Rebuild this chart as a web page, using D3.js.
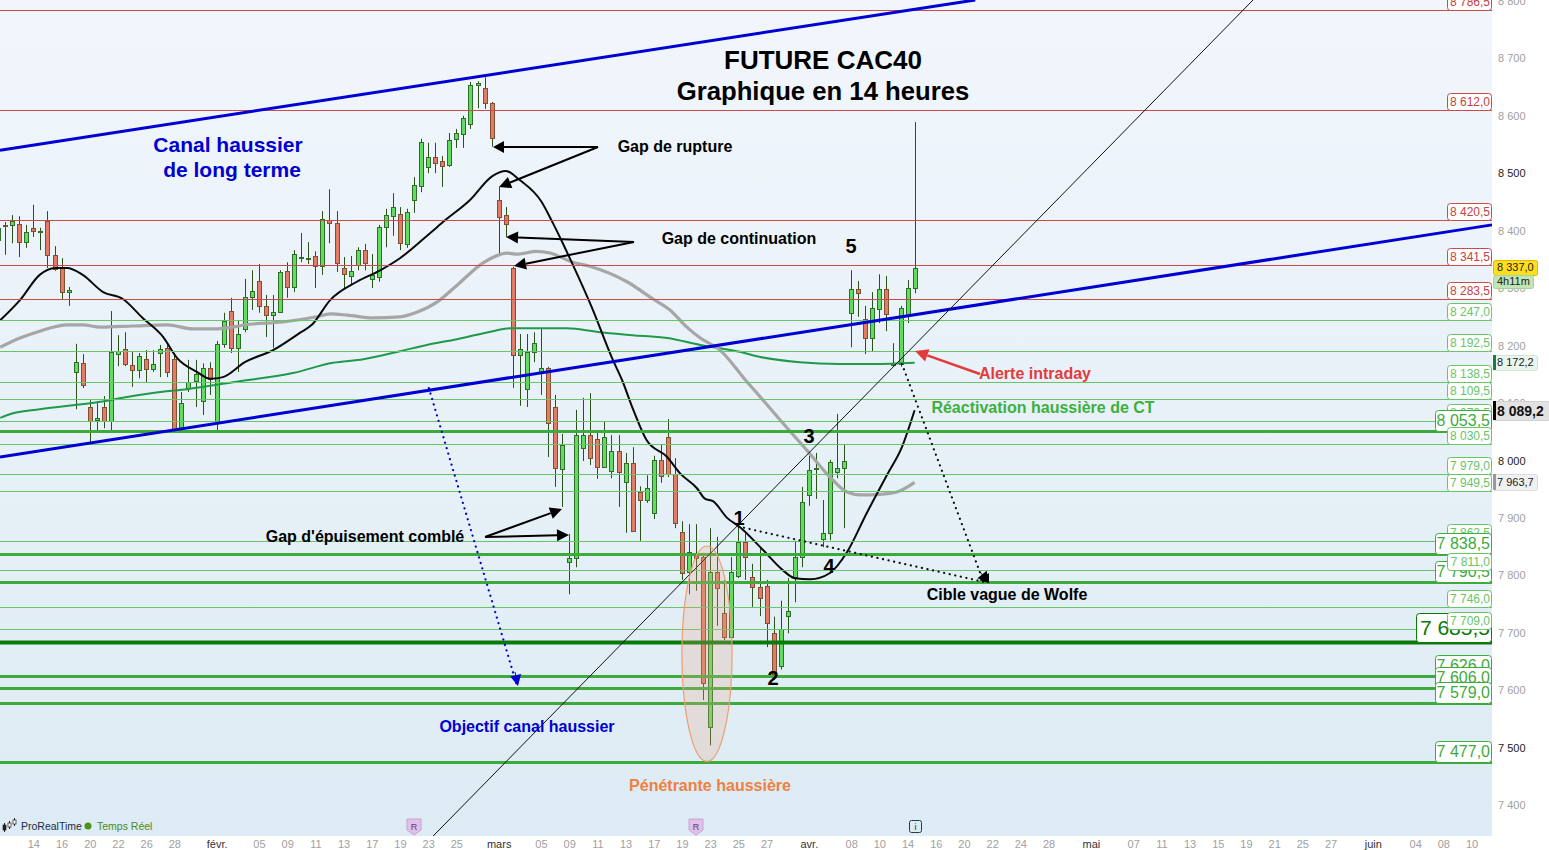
<!DOCTYPE html>
<meta charset="utf-8">
<style>
    html, body { margin: 0; padding: 0; background: #fff; }
    svg { display: block; font-family: "Liberation Sans", Arial, sans-serif; }
    .axis path { display: none; }
    .axis line { display: none; }
    .axis text { font-size: 11px; fill: #a0a0a0; font-family: "Liberation Sans", Arial, sans-serif; }
    .note { font-weight: bold; font-size: 16px; }
</style>
<svg class="chart" width="1549" height="850"></svg>
<script src="https://d3js.org/d3.v7.min.js" charset="utf-8"></script>
<script>

    // candles, one entry per 14h bar
    var opens = [
        8386,8412,8412,8414,8382,8407,8400,8419,8360,8337,
        8295,8156,8171,8095,8072,8095,8071,8187,8196,8168,
        8159,8178,8161,8189,8198,8178,8057,8128,8140,8105,
        8163,8071,8205,8262,8198,8231,8286,8314,8271,8255,
        8260,8332,8304,8354,8352,8358,8340,8420,8415,8337,
        8323,8342,8368,8318,8321,8408,8427,8431,8379,8455,
        8480,8513,8530,8523,8516,8561,8570,8588,8656,8650,
        8624,8455,8429,8337,8185,8126,8191,8156,8163,8095,
        7987,7825,7832,8024,8046,8039,7990,7983,8018,7964,
        7997,7947,7933,7910,8003,8043,7978,7877,7808,7835,
        7834,7538,7808,7736,7694,7801,7860,7799,7781,7783,
        7701,7645,7731,7799,7834,7942,7987,7865,7875,7982,
        7989,8259,8300,8248,8215,8266,8300,8168,8170,8255,
        8302];
    var closes = [
        8407,8410,8419,8382,8400,8401,8401,8360,8335,8295,
        8299,8173,8133,8071,8076,8071,8191,8192,8170,8159,
        8184,8161,8170,8196,8156,8057,8102,8138,8152,8163,
        8144,8205,8245,8198,8222,8286,8297,8271,8255,8260,
        8330,8304,8361,8356,8354,8340,8422,8415,8346,8326,
        8332,8368,8346,8325,8408,8429,8443,8380,8434,8481,
        8556,8530,8520,8514,8560,8572,8598,8656,8659,8624,
        8563,8426,8414,8185,8196,8191,8206,8163,8067,7989,
        8029,7832,8046,8046,8006,7990,8043,8018,7982,7997,
        7879,7933,7954,8003,7975,7978,7893,7806,7842,7832,
        7614,7808,7780,7694,7808,7860,7834,7781,7761,7719,
        7629,7709,7740,7834,7930,7985,7989,7875,7999,7989,
        8001,8300,8293,8215,8267,8300,8257,8170,8267,8302,
        8337];
    var highs = [
        8415,8417,8429,8427,8412,8447,8407,8436,8375,8354,
        8304,8205,8187,8107,8105,8114,8262,8220,8225,8191,
        8189,8194,8194,8203,8203,8185,8121,8177,8177,8171,
        8173,8210,8259,8285,8246,8318,8333,8344,8290,8290,
        8333,8347,8368,8398,8382,8366,8436,8474,8436,8356,
        8358,8373,8379,8361,8412,8440,8467,8443,8440,8495,
        8562,8555,8555,8532,8572,8579,8602,8661,8662,8669,
        8626,8478,8443,8339,8222,8222,8225,8231,8165,8116,
        8048,7874,8090,8111,8119,8055,8069,8046,8046,8015,
        8025,7957,7976,8010,8029,8074,8006,7896,7891,7891,
        7841,7884,7869,7794,7834,7893,7875,7822,7849,7794,
        7730,7758,7797,7862,7956,8011,8015,7933,8003,8083,
        8029,8333,8314,8271,8295,8326,8323,8206,8271,8316,
        8591];
    var lows = [
        8373,8360,8380,8356,8372,8391,8368,8337,8332,8283,
        8271,8091,8128,8034,8050,8058,8050,8166,8166,8130,
        8145,8138,8156,8147,8147,8051,8055,8121,8095,8081,
        8116,8055,8198,8189,8156,8225,8264,8259,8217,8198,
        8259,8285,8295,8347,8344,8302,8325,8380,8330,8299,
        8307,8333,8333,8302,8313,8373,8393,8368,8372,8433,
        8469,8502,8502,8478,8513,8546,8546,8579,8615,8614,
        8548,8361,8391,8128,8097,8095,8173,8116,8008,7956,
        7921,7769,7816,8001,7994,7970,7990,7971,7921,7876,
        7879,7862,7928,7900,7963,7973,7884,7794,7769,7775,
        7585,7506,7714,7689,7694,7797,7794,7747,7731,7677,
        7620,7638,7701,7755,7816,7923,7935,7851,7863,7971,
        7884,8199,8252,8187,8191,8241,8227,8168,8165,8241,
        8293];

    // moving averages, read at these bars
    var blackBars = [0.3,3.1,5.9,8.1,9.8,12,14.9,17.7,20.5,23.4,25.4,28.2,30.1,31.9,35,39,42.8,44.5,47.1,50.9,54.2,57,61.3,63.4,66.9,70.1,72,74,77.1,78.7,80.1,81.4,84.2,87.2,88.5,90.1,92,94.9,96.7,99.1,100.3,101.4,103.4,105.2,108.5,111.3,113,115.2,118,120.4,123.2,126.1,128.2,130];
    var blackValues = [8246,8281,8325,8337,8337,8325,8295,8283,8250,8217,8180,8156,8144,8147,8173,8194,8224,8238,8281,8313,8333,8354,8398,8420,8455,8497,8506,8490,8452,8415,8380,8346,8269,8177,8142,8090,8037,8008,7980,7954,7935,7931,7902,7886,7846,7811,7797,7795,7806,7842,7910,7977,8025,8089.2];
    var grayBars = [0.3,3.1,5.9,9.8,12,14.5,19.1,24,27.6,31.1,35.7,40.4,45.2,47.1,49.5,53.2,57,59.4,62.3,65.1,68.8,72.2,73.6,76.4,78.3,81.5,83.9,89.2,92.9,95.3,97.7,99.6,102.4,106,108.5,111.3,114.7,118,120.4,122.3,125.1,127.5,130];
    var grayValues = [8199,8215,8227,8238,8238,8234,8236,8238,8231,8231,8239,8243,8252,8257,8255,8250,8252,8260,8278,8307,8346,8363,8361,8366,8363,8347,8340,8313,8283,8264,8234,8215,8194,8142,8107,8067,8020,7973,7947,7942,7943,7947,7963.7];
    var greenBars = [0.3,2.1,5.9,14.5,17.7,23,26.8,33.3,41.8,47.5,51.8,57,60.8,65.1,70.2,72.6,80.7,85.4,90,94.9,99.6,105.2,108.1,113.7,119.4,124.1,130];
    var greenValues = [8076,8084,8091,8104,8111,8121,8126,8138,8154,8172,8178,8192,8203,8213,8227,8232,8232,8225,8220,8215,8203,8191,8182,8173,8170,8170,8172.2];

    // horizontal levels, in the order the labels stack
    var levelValues = [8786.5,8612,8420.5,8341.5,8283.5,8247,8192.5,8138.5,8109.5,8070.5,8053.5,8030.5,7979,7949.5,7862.5,7838.5,7790.5,7811,7746,7685.5,7709,7626,7606,7579,7477];
    var levelKinds = ["res","res","res","res","res","sup","sup","sup","sup","sup","strong","sup","sup","sup","sup","strong","strong","sup","sup","major","sup","strong","strong","strong","strong"];

    // bottom axis
    var tickBars = [5,9,13,17,21,25,31,37,41,45,49,53,57,61,65,71,77,81,85,89,93,97,101,105,109,115,121,125,129,133,137,141,145,149,155,161,165,169,173,177,181,185,189,195,201,205,209];
    var tickLabels = ["14","16","20","22","26","28","févr.","05","09","11","13","17","19","23","25","mars","05","09","11","13","17","19","23","25","27","avr.","08","10","14","16","20","22","24","28","mai","07","11","13","15","19","21","25","27","juin","04","08","10"];
    var priceTicks = [7400,7500,7600,7700,7800,7900,8000,8100,8200,8300,8400,8500,8600,8700,8800];
    var darkPrices = [7500,8000,8500];

    // channel and trend lines, [bar, price]
    var upperChannel = [[0.27,8542],[138.6,8803.5]];
    var lowerChannel = [[0.27,8008],[211.9,8412]];
    var trendLine = [[61.7,7348],[178,8803.5]];
    var wolfeTarget = [[105,7887],[140,7790]];
    var wolfeDrop = [[128.2,8170],[139.8,7790]];
    var channelTarget = [[61.1,8128],[73.6,7610]];
    var ellipseBars = [97,104.1];
    var ellipsePrices = [7478,7853];

    var width = 1549,
        height = 850,
        plotRight = 1492,
        plotBottom = 836;

    var x = d3.scaleLinear().domain([0, 130]).range([-1.9, 914.6]);
    var y = d3.scaleLinear().domain([7477, 8612]).range([762, 110]);

    var priceFmt = function (v) {
        return d3.format(",.1f")(v).replace(",", " ").replace(".", ",");
    };

    var svg = d3.select(".chart");

    var defs = svg.append("defs");
    var grad = defs.append("linearGradient").attr("id", "bg").attr("x1", 0).attr("x2", 0).attr("y1", 0).attr("y2", 1);
    grad.append("stop").attr("offset", "0%").attr("stop-color", "#f1f6fc");
    grad.append("stop").attr("offset", "50%").attr("stop-color", "#e8f1f8");
    grad.append("stop").attr("offset", "100%").attr("stop-color", "#dcebf4");

    svg.append("rect").attr("width", plotRight).attr("height", plotBottom).attr("fill", "url(#bg)");

    // candles
    var bars = d3.range(opens.length).map(function (i) {
        return {i: i, o: opens[i], h: highs[i], l: lows[i], c: closes[i]};
    });

    var candle = svg.append("g").selectAll("g").data(bars).enter().append("g");

    candle.append("line")
        .attr("x1", function (d) { return Math.round(x(d.i)) + 0.5; })
        .attr("x2", function (d) { return Math.round(x(d.i)) + 0.5; })
        .attr("y1", function (d) { return y(d.h); })
        .attr("y2", function (d) { return y(d.l); })
        .attr("stroke", "#2a5218");

    candle.append("rect")
        .attr("x", function (d) { return Math.round(x(d.i)) - 1.5; })
        .attr("width", 4)
        .attr("y", function (d) { return Math.round(y(Math.max(d.o, d.c))) + 0.5; })
        .attr("height", function (d) { return Math.max(1, Math.round(y(Math.min(d.o, d.c)) - y(Math.max(d.o, d.c)))); })
        .attr("fill", function (d) { return d.c >= d.o ? "#62dc5e" : "#e27c66"; })
        .attr("stroke", function (d) { return d.c >= d.o ? "#2f6e28" : "#7c5030"; });

    // moving averages
    var line = d3.line()
        .x(function (d) { return x(d[0]); })
        .y(function (d) { return y(d[1]); });

    svg.append("path").datum(d3.zip(greenBars, greenValues)).attr("d", line.curve(d3.curveMonotoneX))
        .attr("fill", "none").attr("stroke", "#1f9a4a").attr("stroke-width", 2);
    svg.append("path").datum(d3.zip(grayBars, grayValues)).attr("d", line)
        .attr("fill", "none").attr("stroke", "#a6a6a6").attr("stroke-width", 3.2);
    svg.append("path").datum(d3.zip(blackBars, blackValues)).attr("d", line)
        .attr("fill", "none").attr("stroke", "#0a0a0a").attr("stroke-width", 2);

    // horizontal levels
    var levelStyle = {
        res: {stroke: "#cc4a4a", sw: 1, text: "#c84040", left: 1447, h: 17, font: 12},
        sup: {stroke: "#68c468", sw: 1, text: "#66c566", left: 1447, h: 17, font: 12},
        strong: {stroke: "#3cab3c", sw: 3, text: "#3cab3c", left: 1435, h: 21, font: 16},
        major: {stroke: "#087a08", sw: 4, text: "#087a08", left: 1416, h: 29, font: 21}
    };
    var levels = d3.zip(levelValues, levelKinds);

    svg.append("g").selectAll("line").data(levels).enter().append("line")
        .attr("x1", 0)
        .attr("x2", plotRight)
        .attr("y1", function (d) { return Math.round(y(d[0])) + 0.5; })
        .attr("y2", function (d) { return Math.round(y(d[0])) + 0.5; })
        .attr("stroke", function (d) { return levelStyle[d[1]].stroke; })
        .attr("stroke-width", function (d) { return levelStyle[d[1]].sw; });

    // channels and trend line
    var straight = d3.line().x(function (d) { return x(d[0]); }).y(function (d) { return y(d[1]); });
    [upperChannel, lowerChannel].forEach(function (c) {
        svg.append("path").attr("d", straight(c)).attr("stroke", "#0000d2").attr("stroke-width", 3).attr("fill", "none");
    });
    svg.append("path").attr("d", straight(trendLine)).attr("stroke", "#111").attr("stroke-width", 1).attr("fill", "none");

    // penetrante ellipse
    svg.append("ellipse")
        .attr("cx", (x(ellipseBars[0]) + x(ellipseBars[1])) / 2)
        .attr("cy", (y(ellipsePrices[0]) + y(ellipsePrices[1])) / 2)
        .attr("rx", (x(ellipseBars[1]) - x(ellipseBars[0])) / 2)
        .attr("ry", (y(ellipsePrices[0]) - y(ellipsePrices[1])) / 2)
        .attr("fill", "#e8a888").attr("fill-opacity", 0.25)
        .attr("stroke", "#ef9e72").attr("stroke-width", 1.2);

    // dotted projections
    function dotted(pts, color) {
        svg.append("path").attr("d", straight(pts)).attr("fill", "none")
            .attr("stroke", color).attr("stroke-width", 2.2)
            .attr("stroke-linecap", "round").attr("stroke-dasharray", "0.1 5.6");
    }
    dotted(channelTarget, "#0000d2");
    dotted(wolfeTarget, "#111");
    dotted(wolfeDrop, "#111");

    // arrows
    function arrow(x1, y1, x2, y2, color, sw, len, half) {
        var a = Math.atan2(y2 - y1, x2 - x1),
            bx = x2 - len * Math.cos(a),
            by = y2 - len * Math.sin(a);
        svg.append("line").attr("x1", x1).attr("y1", y1).attr("x2", bx).attr("y2", by)
            .attr("stroke", color).attr("stroke-width", sw);
        svg.append("polygon")
            .attr("points", [
                [x2, y2],
                [bx - half * Math.sin(a), by + half * Math.cos(a)],
                [bx + half * Math.sin(a), by - half * Math.cos(a)]
            ].join(" "))
            .attr("fill", color);
    }
    arrow(598, 147, 493, 147, "#000", 2, 11, 6);
    arrow(598, 147, 499, 187, "#000", 2, 12, 6);
    arrow(634, 242, 506, 237, "#000", 2, 12, 6);
    arrow(634, 242, 514, 266, "#000", 2, 12, 6);
    arrow(485, 537, 562, 509, "#000", 2, 12, 6);
    arrow(485, 537, 569, 535, "#000", 2, 12, 6);
    arrow(980, 374, 915, 351, "#e23b3b", 2.5, 13, 6.5);
    arrow(980, 572, 989, 583, "#000", 1, 11, 6);
    arrow(983, 575, 989, 583, "#000", 1, 8, 6);
    arrow(515, 672, 518, 686, "#0000d2", 1, 11, 5.5);

    // level labels on the right of the plot
    var label = svg.append("g").selectAll("g").data(levels).enter().append("g");
    label.append("rect")
        .attr("x", function (d) { return levelStyle[d[1]].left + 0.5; })
        .attr("y", function (d) { return Math.round(y(d[0])) - levelStyle[d[1]].h + 0.5; })
        .attr("width", function (d) { return plotRight - levelStyle[d[1]].left - 1; })
        .attr("height", function (d) { return levelStyle[d[1]].h; })
        .attr("rx", 3)
        .attr("fill", "#fff")
        .attr("stroke", function (d) { return levelStyle[d[1]].stroke; });
    label.append("text")
        .attr("x", plotRight - 2)
        .attr("y", function (d) { return Math.round(y(d[0])) - levelStyle[d[1]].h / 2 + levelStyle[d[1]].font * 0.36; })
        .attr("text-anchor", "end")
        .attr("font-size", function (d) { return levelStyle[d[1]].font; })
        .attr("fill", function (d) { return levelStyle[d[1]].text; })
        .text(function (d) { return priceFmt(d[0]); });

    // axis backgrounds
    svg.append("rect").attr("x", plotRight).attr("width", width - plotRight).attr("height", height).attr("fill", "#fff");
    svg.append("rect").attr("y", plotBottom).attr("width", plotRight).attr("height", height - plotBottom).attr("fill", "#fff");

    // axes
    var yAxis = svg.append("g").attr("class", "axis y")
        .attr("transform", "translate(" + 1498 + ",-1)")
        .call(d3.axisRight(y).tickValues(priceTicks).tickSize(0).tickPadding(0)
            .tickFormat(function (d) { return d3.format(",")(d).replace(",", " "); }));
    yAxis.selectAll("text").filter(function (d) { return darkPrices.indexOf(d) >= 0; }).style("fill", "#222");

    var xAxis = svg.append("g").attr("class", "axis x")
        .attr("transform", "translate(0," + 840 + ")")
        .call(d3.axisBottom(x).tickValues(tickBars).tickSize(0).tickPadding(0)
            .tickFormat(function (d, i) { return tickLabels[i]; }));
    xAxis.selectAll("text").filter(function (d, i) { return isNaN(+tickLabels[i]); }).style("fill", "#333");

    // live price tags
    function tag(x0, y0, w, h, fill, stroke, txt, color, font, weight) {
        svg.append("rect").attr("x", x0 + 0.5).attr("y", y0 + 0.5).attr("width", w).attr("height", h).attr("rx", 2)
            .attr("fill", fill).attr("stroke", stroke);
        svg.append("text").attr("x", x0 + 4).attr("y", y0 + h / 2 + font * 0.36).attr("font-size", font)
            .attr("font-weight", weight || "normal").attr("fill", color).text(txt);
    }
    tag(1493, 260, 44, 15, "#ffdd1f", "#e3b800", priceFmt(closes[closes.length - 1]), "#222", 11);
    tag(1493, 275, 40, 13, "#bfe6b4", "#a4d49a", "4h11m", "#222", 11);
    tag(1493, 355, 44, 15, "#e9f6ee", "#cfe6d6", priceFmt(greenValues[greenValues.length - 1]), "#222", 11);
    svg.append("rect").attr("x", 1493).attr("y", 355).attr("width", 3).attr("height", 15).attr("fill", "#12843a");
    tag(1493, 401, 56, 19, "#e2e2e2", "#d0d0d0", priceFmt(blackValues[blackValues.length - 1]), "#111", 14, "bold");
    svg.append("rect").attr("x", 1493).attr("y", 401).attr("width", 3).attr("height", 19).attr("fill", "#000");
    tag(1493, 474, 44, 16, "#f0f0f0", "#dcdcdc", priceFmt(grayValues[grayValues.length - 1]), "#222", 11);
    svg.append("rect").attr("x", 1493).attr("y", 474).attr("width", 3).attr("height", 16).attr("fill", "#999");

    // annotations
    function note(txt, cx, cy, color, size) {
        svg.append("text").attr("x", cx).attr("y", cy + size * 0.36)
            .attr("text-anchor", "middle").attr("font-weight", "bold")
            .attr("font-size", size).attr("fill", color).text(txt);
    }
    note("FUTURE CAC40", 823, 60, "#000", 26);
    note("Graphique en 14 heures", 823, 91, "#000", 25.7);
    note("Canal haussier", 228, 144, "#0000d2", 21);
    note("de long terme", 232, 169, "#0000d2", 21);
    note("Gap de rupture", 675, 146, "#000", 16);
    note("Gap de continuation", 739, 238, "#000", 16);
    note("Gap d'épuisement comblé", 365, 536, "#000", 16);
    note("Alerte intraday", 1035, 373, "#e23b3b", 16);
    note("Réactivation haussière de CT", 1043, 407, "#3cb03c", 16);
    note("Cible vague de Wolfe", 1007, 594, "#000", 16);
    note("Objectif canal haussier", 527, 726, "#0000d2", 16);
    note("Pénétrante haussière", 710, 785, "#f08040", 16);
    note("1", 739, 518, "#000", 20);
    note("2", 773, 678, "#000", 20);
    note("3", 809, 436, "#000", 20);
    note("4", 829, 566, "#000", 20);
    note("5", 851, 246, "#000", 20);

    // platform marks
    [[4, 823, 832], [9, 821, 829], [14, 818, 826]].forEach(function (b) {
        svg.append("line").attr("x1", b[0] + 0.5).attr("x2", b[0] + 0.5).attr("y1", b[1]).attr("y2", b[2]).attr("stroke", "#222");
        svg.append("rect").attr("x", b[0] - 1).attr("y", b[1] + 2).attr("width", 3).attr("height", b[2] - b[1] - 4)
            .attr("fill", b[0] === 4 ? "#222" : "#fff").attr("stroke", "#222").attr("stroke-width", 0.7);
    });
    svg.append("text").attr("x", 21).attr("y", 830).attr("font-size", 10.5).attr("fill", "#1c2a44").text("ProRealTime");
    svg.append("circle").attr("cx", 88).attr("cy", 826).attr("r", 3.5).attr("fill", "#4d9412");
    svg.append("text").attr("x", 97).attr("y", 830).attr("font-size", 10.5).attr("fill", "#4d8a1c").text("Temps Réel");

    [414, 696].forEach(function (cx) {
        svg.append("path")
            .attr("d", "M" + (cx - 7) + ",819h14v11l-7,5l-7,-5z")
            .attr("fill", "#e2bfe6").attr("stroke", "#c9a4d6").attr("stroke-linejoin", "round");
        svg.append("text").attr("x", cx).attr("y", 830).attr("text-anchor", "middle").attr("font-size", 9).attr("fill", "#5b3a80").text("R");
    });
    svg.append("rect").attr("x", 909.5).attr("y", 820.5).attr("width", 12).attr("height", 12).attr("rx", 2)
        .attr("fill", "#dcebf4").attr("stroke", "#2a3a4a");
    svg.append("text").attr("x", 915.5).attr("y", 830).attr("text-anchor", "middle").attr("font-size", 9).attr("fill", "#1a2a3a").text("i");

</script>
